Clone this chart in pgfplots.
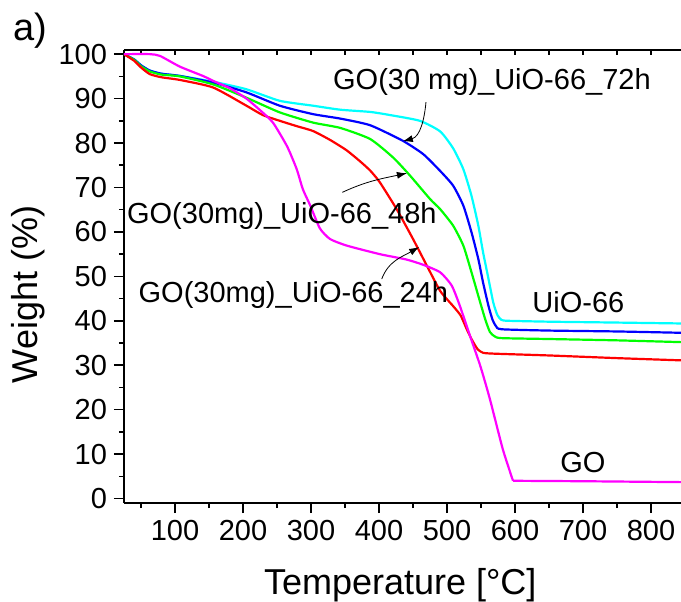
\documentclass[border=0pt]{standalone}
\usepackage{fontspec}
\setmainfont{Liberation Sans}
\usepackage{pgfplots}
\pgfplotsset{compat=1.18}
\usetikzlibrary{arrows.meta}
\definecolor{tgcyan}{RGB}{0,255,255}
\definecolor{tgblue}{RGB}{0,0,255}
\definecolor{tggreen}{RGB}{0,255,0}
\definecolor{tgred}{RGB}{255,0,0}
\definecolor{tgmagenta}{RGB}{255,0,255}

\begin{document}
\begin{tikzpicture}
\useasboundingbox (-62pt,-49.35pt) rectangle (278.5pt,251.5pt);

% top frame line, ticks pointing in
\begin{axis}[
    scale only axis, width=278.5pt, height=226.65pt,
    xmin=25, xmax=844, ymin=-1, ymax=101,
    axis x line*=top, axis y line=none,
    x axis line style={-, line width=1pt},
    tick align=inside,
    xtick={50,100,...,800}, xticklabels={},
    major tick length=2.5pt,
    tick style={line width=0.8pt, black},
]
\end{axis}

\begin{axis}[
    scale only axis, width=278.5pt, height=226.65pt,
    xmin=25, xmax=844, ymin=-1, ymax=101,
    axis x line=bottom, axis y line=left,
    axis line style={-, line width=1pt},
    tick align=outside,
    xtick={100,200,...,800}, minor xtick={50,150,...,750},
    ytick={0,10,...,100}, minor ytick={5,15,...,95},
    major tick length=5pt, minor tick length=2.5pt,
    tick style={line width=0.8pt, black},
    tick label style={font=\fontsize{14.5}{16}\selectfont},
    /pgf/number format/assume math mode=true,
    xlabel={Temperature [°C]}, ylabel={Weight (\%)},
    label style={font=\fontsize{18}{20}\selectfont},
    xlabel style={at={(axis description cs:0.496,-0.202)}, anchor=base},
    ylabel style={at={(axis description cs:-0.172,0.46)}, anchor=center},
    every axis plot/.append style={line width=1.1pt, smooth, tension=0.35},
]
% GO(30 mg)_UiO-66_72h
\addplot[tgcyan] coordinates {
(25,100) (40,98.8) (50,97.5) (63,96.3) (80,95.6) (107,95.1) (156,93.8) (205,92.1)
(254,89.5) (303,88.4) (343,87.5) (387,87.0) (416,86.3) (460,85.0) (490,82.6)
(509,78.8) (524,74.1) (536,68.1) (546,61.4) (553,55.4) (561,49.4) (568,44.1)
(574,41.3) (580,40.2) (590,40.0) (650,39.8) (750,39.6) (844,39.4)
};
% GO(30mg)_UiO-66_48h
\addplot[tgblue] coordinates {
(25,100) (40,98.8) (50,97.5) (63,96.3) (80,95.6) (107,95.1) (156,93.6) (205,91.4)
(254,88.4) (303,86.5) (343,85.5) (387,84.0) (435,80.5) (465,77.5) (490,73.7)
(509,70.4) (524,65.9) (536,59.9) (546,53.9) (553,48.6) (561,43.3) (567,40.2)
(572,38.8) (580,38.1) (650,37.8) (750,37.6) (844,37.3)
};
% GO(30mg)_UiO-66_24h
\addplot[tggreen] coordinates {
(25,100) (40,98.7) (50,97.3) (63,96.1) (80,95.4) (107,95.0) (156,93.2) (205,90.2)
(254,86.9) (303,84.6) (343,83.4) (387,80.9) (421,76.7) (446,72.6) (475,67.4)
(490,65.1) (509,61.4) (524,56.9) (536,50.9) (546,45.6) (556,40.4) (563,37.5)
(570,36.5) (580,36.1) (650,35.9) (750,35.6) (844,35.2)
};
% UiO-66
\addplot[tgred] coordinates {
(25,100) (40,98.5) (50,97.0) (63,95.5) (80,94.8) (107,94.2) (156,92.5) (205,88.4)
(229,86.3) (254,85.0) (279,83.8) (303,82.7) (328,80.7) (352,78.4) (372,75.9)
(387,73.8) (401,71.2) (426,65.1) (450,58.4) (470,52.5) (490,46.7) (509,43.3)
(520,41.2) (529,38.1) (537,35.6) (545,33.6) (553,32.8) (570,32.6) (650,32.2)
(750,31.6) (844,31.1)
};
% GO
\addplot[tgmagenta] coordinates {
(25,100) (63,100) (78,99.6) (107,97.2) (141,95.1) (156,94.0) (181,92.3) (205,90.0)
(225,87.4) (244,84.6) (265,79.2) (279,74.1) (288,69.6) (299,65.9) (313,60.8)
(328,58.4) (353,56.9) (401,55.0) (440,53.8) (465,52.6) (490,50.9) (507,47.9)
(519,43.3) (534,36.5) (549,29.8) (563,22.4) (582,11.1) (597,4.0)
};
\addplot[tgmagenta, sharp plot] coordinates {
(597,4.0) (700,3.9) (844,3.7)
};

\begin{scope}[every node/.style={inner sep=0, anchor=base west, font=\fontsize{14.5}{16}\selectfont}]
\node at (axis cs:332,92.0) {GO(30 mg)\_UiO-66\_72h};
\node at (axis cs:29,62.0) {GO(30mg)\_UiO-66\_48h};
\node at (axis cs:46,44.2) {GO(30mg)\_UiO-66\_24h};
\node at (axis cs:625,41.9) {UiO-66};
\node at (axis cs:666,5.9) {GO};
\end{scope}

\begin{scope}[line width=0.4pt, -{Latex[length=5pt,width=3.5pt]}]
\draw (axis cs:469,89.2) to[out=-95,in=15] (axis cs:435,80.4);
\draw (axis cs:346,68.9) to[out=25,in=192] (axis cs:441,73.2);
\draw (axis cs:404,49.4) to[out=70,in=210] (axis cs:459,56.6);
\end{scope}
\end{axis}

\node[anchor=base west, inner sep=0, font=\fontsize{19}{21}\selectfont] at (-55.5pt,231.5pt) {a)};
\end{tikzpicture}
\end{document}
